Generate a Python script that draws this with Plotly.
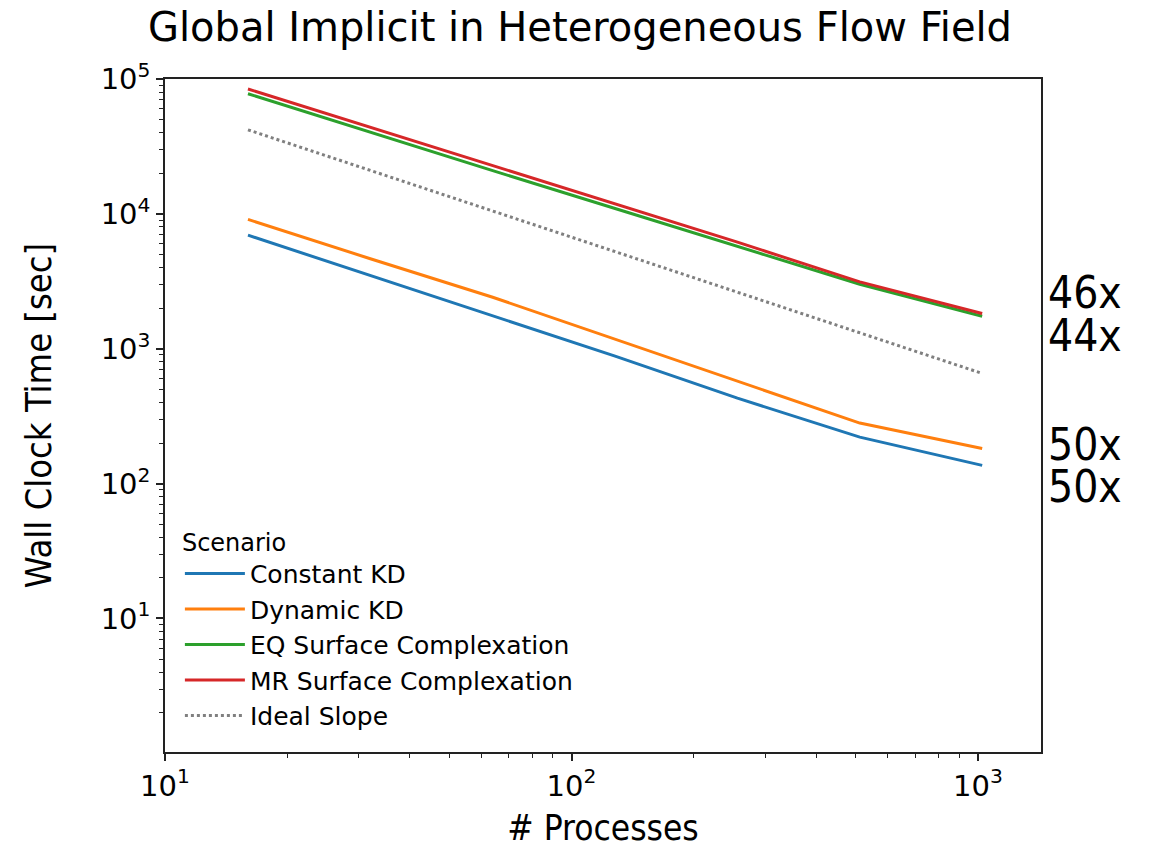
import plotly.graph_objects as go

# ---- data ----
processes = [16, 32, 64, 128, 256, 512, 1024]
constant_kd = [6950, 3490, 1742, 881, 430, 221, 136.5]
dynamic_kd = [9100, 4650, 2410, 1175, 574, 281, 182]
eq_surface = [77800, 40300, 20900, 10960, 5750, 3010, 1742]
mr_surface = [84300, 43750, 22700, 11900, 6170, 3130, 1824]
ideal_slope = [42000, 21000, 10500, 5250, 2625, 1312, 656]

series_names = ["Constant KD", "Dynamic KD", "EQ Surface Complexation",
                "MR Surface Complexation", "Ideal Slope"]
speedup_labels = ["46x", "44x", "50x", "50x"]

x_tickvals = [10, 100, 1000]
x_ticktext = ["10<sup>1</sup>", "10<sup>2</sup>", "10<sup>3</sup>"]
y_tickvals = [10, 100, 1000, 10000, 100000]
y_ticktext = ["10<sup>1</sup>", "10<sup>2</sup>", "10<sup>3</sup>",
              "10<sup>4</sup>", "10<sup>5</sup>"]

colors = ["#1f77b4", "#ff7f0e", "#2ca02c", "#d62728", "#808080"]

REG = "DejaVu Sans, Noto Sans, sans-serif"
COND = "DejaVu Sans Condensed, DejaVu Sans, sans-serif"

fig = go.Figure()
all_series = [constant_kd, dynamic_kd, eq_surface, mr_surface, ideal_slope]
for name, vals, col in zip(series_names, all_series, colors):
    dash = "dot" if name == "Ideal Slope" else "solid"
    fig.add_trace(go.Scatter(x=processes, y=vals, mode="lines", name=name,
                             line=dict(color=col, width=3, dash=dash)))

# minor tick positions (2..9 in each decade)
x_minor = [m * 10 ** d for d in range(1, 4) for m in range(2, 10) if m * 10 ** d < 1430]
y_minor = [m * 10 ** d for d in range(0, 5) for m in range(2, 10)]

axis_common = dict(type="log", showgrid=False, zeroline=False, showline=True,
                   mirror=True, linecolor="#222222", linewidth=1.5,
                   ticks="outside", ticklen=7, tickwidth=1.5, tickcolor="#222222",
                   automargin=False)

fig.update_xaxes(**axis_common, range=[1.0, 3.155], tickmode="array",
                 tickvals=x_tickvals, ticktext=x_ticktext,
                 tickfont=dict(family=REG, size=29, color="black"),
                 minor=dict(tickmode="array", tickvals=x_minor, ticks="outside",
                            ticklen=4, tickwidth=1, tickcolor="#222222"),
                 title=dict(text="# Processes", standoff=22,
                            font=dict(family=COND, size=35, color="black")))
fig.update_yaxes(**axis_common, range=[0.01, 5.0], tickmode="array",
                 tickvals=y_tickvals, ticktext=y_ticktext,
                 tickfont=dict(family=REG, size=29, color="black"),
                 minor=dict(tickmode="array", tickvals=y_minor, ticks="outside",
                            ticklen=4, tickwidth=1, tickcolor="#222222"),
                 title=dict(text="Wall Clock Time [sec]", standoff=38,
                            font=dict(family=COND, size=36, color="black")))

label_y = [0.6835, 0.6196, 0.4562, 0.3938]
for txt, yy in zip(speedup_labels, label_y):
    fig.add_annotation(text=txt, xref="paper", yref="paper", x=1.006, y=yy,
                       xanchor="left", yanchor="middle", showarrow=False,
                       font=dict(family=COND, size=44, color="black"))

fig.update_layout(
    width=1153, height=848,
    margin=dict(l=165, r=112, t=79, b=96),
    paper_bgcolor="white", plot_bgcolor="white",
    title=dict(text="Global Implicit in Heterogeneous Flow Field",
               x=0.503, xanchor="center", xref="container",
               y=0.968, yanchor="middle", yref="container",
               font=dict(family=REG, size=40, color="black")),
    legend=dict(x=0.017, y=0.02, xanchor="left", yanchor="bottom",
                bgcolor="rgba(0,0,0,0)", borderwidth=0, itemwidth=60,
                font=dict(family=REG, size=25, color="black"),
                title=dict(text="Scenario", side="top",
                           font=dict(family=REG, size=24, color="black"))),
    showlegend=True,
)

fig.write_html("out.html")
